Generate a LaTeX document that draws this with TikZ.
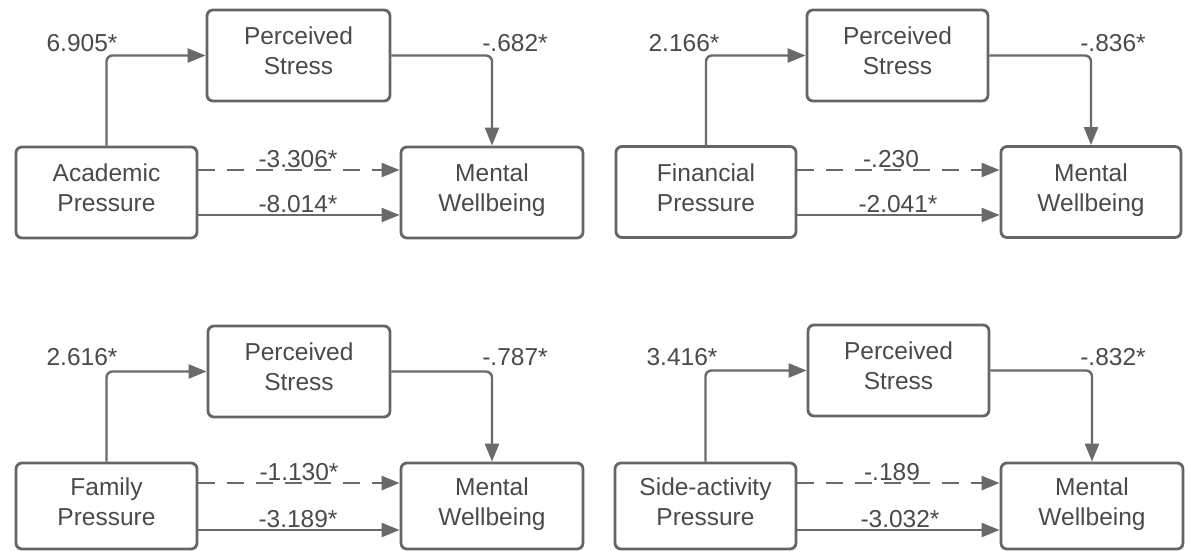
\documentclass[tikz,border=0pt]{standalone}
\usepackage{fontspec}
\setmainfont{Liberation Sans}
\usetikzlibrary{arrows.meta}
\definecolor{txtc}{HTML}{4A4A4A}
\definecolor{linec}{HTML}{6A6A6A}
\definecolor{boxc}{HTML}{656565}
\newcommand\bxs{\rule[-10.5pt]{0pt}{29pt}}
\tikzset{
  box/.style={draw=boxc, line width=2.8pt, rounded corners=6pt, text=txtc,
    minimum height=91pt, inner sep=0pt, align=center,
    font=\fontsize{24.5}{30}\selectfont},
  lowbox/.style={box, minimum height=86pt},
  lab/.style={text=txtc, inner sep=0pt, anchor=base, font=\fontsize{24.5}{30}\selectfont},
  arr/.style={draw=linec, line width=2.4pt, -{Triangle[length=18pt,width=14pt]}},
  elbowarr/.style={arr, rounded corners=6pt},
  dsh/.style={arr, dash pattern=on 17pt off 12pt, dash phase=0pt}
}
\begin{document}
\begin{tikzpicture}[x=1pt,y=-1pt]
\useasboundingbox (0,0) rectangle (1186,550);
% ---------- top-left ----------
\node[box, minimum width=181pt] (ap) at (106.5,192.5) {\bxs Academic\\\bxs Pressure};
\node[box, minimum width=183pt] (psa) at (298.5,55.5) {\bxs Perceived\\\bxs Stress};
\node[box, minimum width=182pt] (mwa) at (492,192.5) {\bxs Mental\\\bxs Wellbeing};
\draw[elbowarr] (ap.north) |- (psa.west);
\draw[elbowarr] (psa.east) -| (mwa.north);
\draw[dsh] ([yshift=22.5pt]ap.east) -- ([yshift=22.5pt]mwa.west);
\draw[arr] ([yshift=-22.5pt]ap.east) -- ([yshift=-22.5pt]mwa.west);
\node[lab] (la1) at (82,51) {6.905*};
\node[lab] (la2) at (515,51) {-.682*};
\node[lab] (la3) at (298,167) {-3.306*};
\node[lab] (la4) at (298,212) {-8.014*};
% ---------- top-right ----------
\node[box, minimum width=180pt] (fp) at (706,192) {\bxs Financial\\\bxs Pressure};
\node[box, minimum width=181pt] (psb) at (897.5,55.5) {\bxs Perceived\\\bxs Stress};
\node[box, minimum width=180pt] (mwb) at (1091,192) {\bxs Mental\\\bxs Wellbeing};
\draw[elbowarr] (fp.north) |- (psb.west);
\draw[elbowarr] (psb.east) -| (mwb.north);
\draw[dsh] ([yshift=22pt]fp.east) -- ([yshift=22pt]mwb.west);
\draw[arr] ([yshift=-23pt]fp.east) -- ([yshift=-23pt]mwb.west);
\node[lab] (lb1) at (684,51) {2.166*};
\node[lab] (lb2) at (1113,51) {-.836*};
\node[lab] (lb3) at (891,167) {-.230};
\node[lab] (lb4) at (898,212) {-2.041*};
% ---------- bottom-left ----------
\node[lowbox, minimum width=181pt] (fm) at (106.5,506) {\bxs Family\\\bxs Pressure};
\node[box, minimum width=182pt] (psc) at (299,371.5) {\bxs Perceived\\\bxs Stress};
\node[lowbox, minimum width=182pt] (mwc) at (492,506) {\bxs Mental\\\bxs Wellbeing};
\draw[elbowarr] (fm.north) |- (psc.west);
\draw[elbowarr] (psc.east) -| (mwc.north);
\draw[dsh] ([yshift=23pt]fm.east) -- ([yshift=23pt]mwc.west);
\draw[arr] ([yshift=-24pt]fm.east) -- ([yshift=-24pt]mwc.west);
\node[lab] (lc1) at (82,365) {2.616*};
\node[lab] (lc2) at (515,365) {-.787*};
\node[lab] (lc3) at (299,480) {-1.130*};
\node[lab] (lc4) at (298,527) {-3.189*};
% ---------- bottom-right ----------
\node[lowbox, minimum width=181pt] (sa) at (705.5,506) {\bxs Side-activity\\\bxs Pressure};
\node[box, minimum width=181pt] (psd) at (898.5,370.5) {\bxs Perceived\\\bxs Stress};
\node[lowbox, minimum width=182pt] (mwd) at (1092,506) {\bxs Mental\\\bxs Wellbeing};
\draw[elbowarr] (sa.north) |- (psd.west);
\draw[elbowarr] (psd.east) -| (mwd.north);
\draw[dsh] ([yshift=23pt]sa.east) -- ([yshift=23pt]mwd.west);
\draw[arr] ([yshift=-24pt]sa.east) -- ([yshift=-24pt]mwd.west);
\node[lab] (ld1) at (682,365) {3.416*};
\node[lab] (ld2) at (1113,365) {-.832*};
\node[lab] (ld3) at (892,480) {-.189};
\node[lab] (ld4) at (900,527) {-3.032*};
\end{tikzpicture}
\end{document}
